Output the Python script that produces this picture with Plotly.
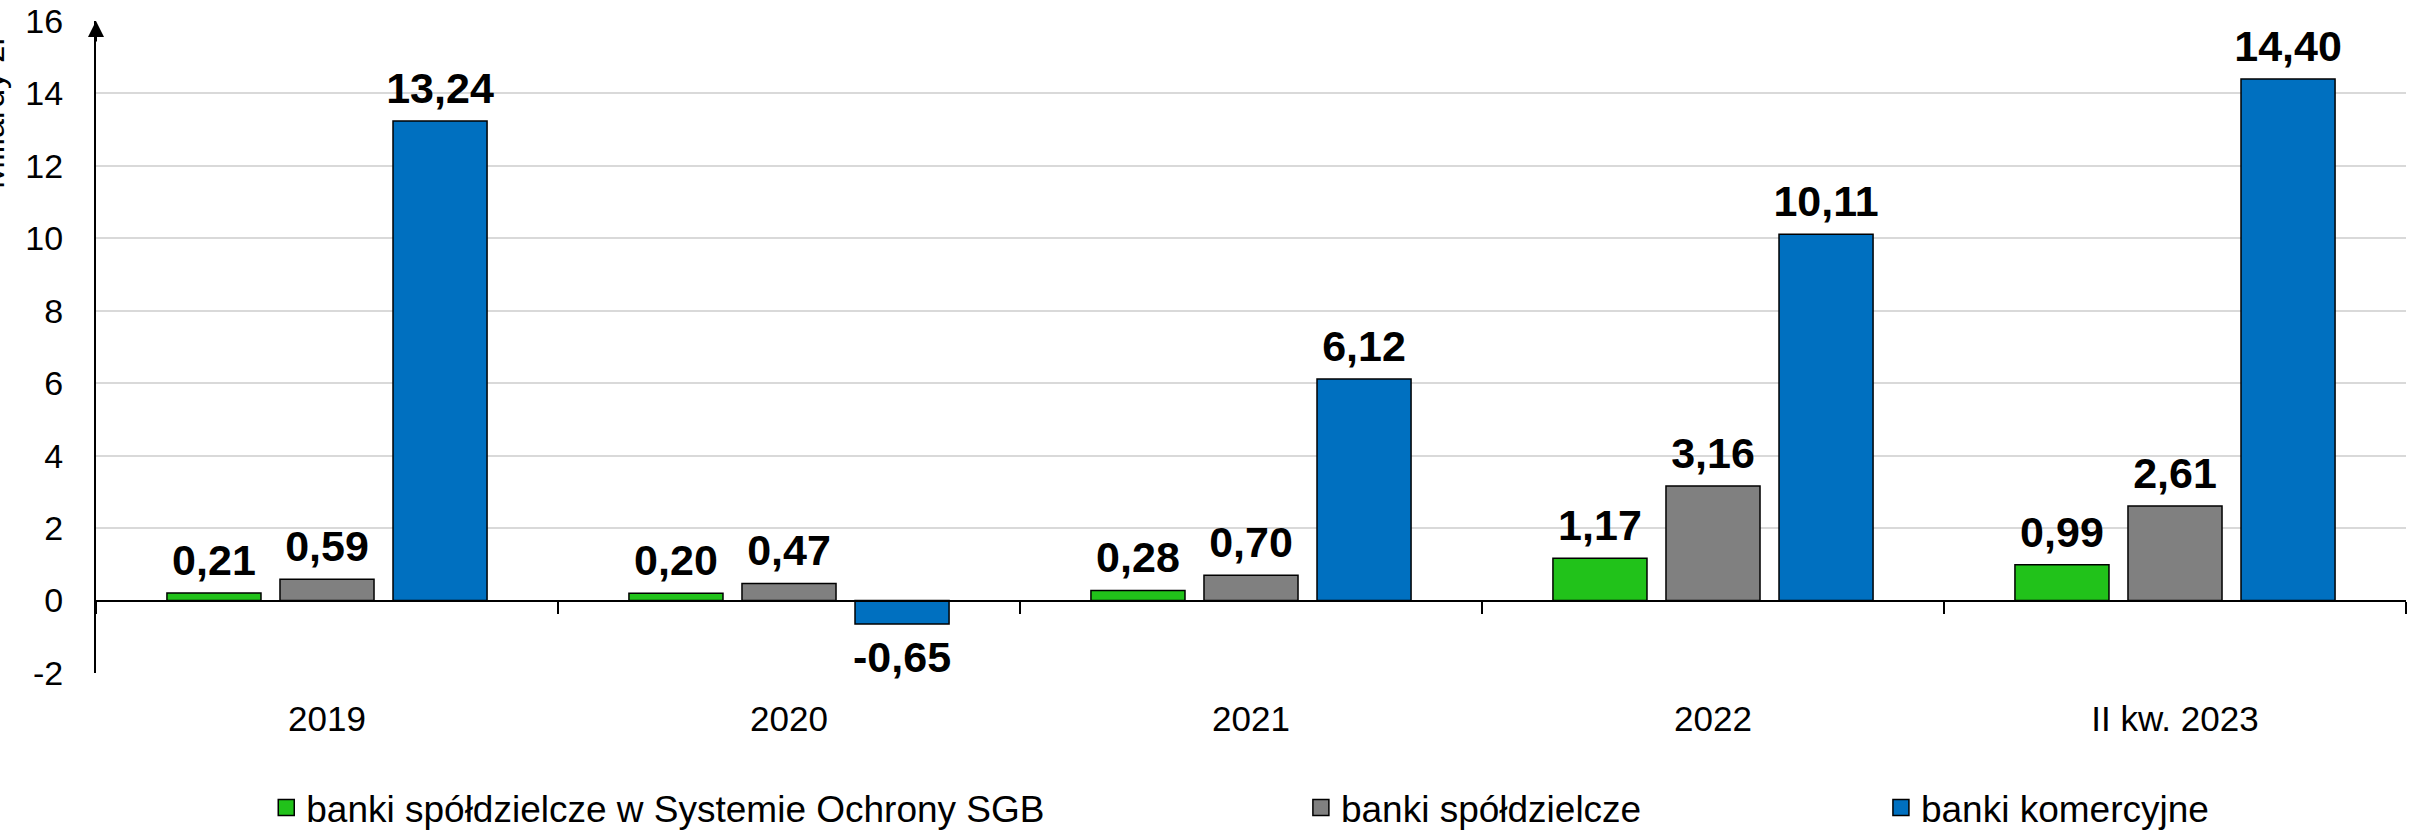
import plotly.graph_objects as go

categories = ["2019", "2020", "2021", "2022", "II kw. 2023"]
series_names = ["banki spółdzielcze w Systemie Ochrony SGB", "banki spółdzielcze", "banki komercyjne"]
sgb = [0.21, 0.20, 0.28, 1.17, 0.99]
spoldzielcze = [0.59, 0.47, 0.70, 3.16, 2.61]
komercyjne = [13.24, -0.65, 6.12, 10.11, 14.40]
colors = ["#21C21A", "#808080", "#0070C0"]
y_ticks = [-2, 0, 2, 4, 6, 8, 10, 12, 14, 16]
y_title = "Miliardy zł"

FONT = "Liberation Sans"
LABEL_GAP = 0.17  # extra gap between bar end and its label, in axis units

def fmt(v):
    return f"{v:.2f}".replace(".", ",")

fig = go.Figure()
legend_ids = ["legend", "legend2", "legend3"]
for i, (name, vals, col, lg) in enumerate(zip(series_names, [sgb, spoldzielcze, komercyjne], colors, legend_ids)):
    grp = f"g{i}"
    fig.add_trace(go.Bar(
        x=categories, y=vals, name=name, showlegend=False, offsetgroup=grp,
        marker=dict(color=col, line=dict(color="black", width=1.5)),
        hoverinfo="x+y",
    ))
    # transparent carrier bar for the value label, slightly beyond the bar end
    fig.add_trace(go.Bar(
        x=categories, y=[LABEL_GAP if v >= 0 else -LABEL_GAP for v in vals], base=vals,
        offsetgroup=grp, showlegend=False, hoverinfo="skip",
        marker=dict(color="rgba(0,0,0,0)", line=dict(width=0)),
        text=[fmt(v) for v in vals], textposition="outside",
        textfont=dict(family=FONT, size=43, color="black", weight="bold"),
        constraintext="none", cliponaxis=False,
    ))
    # legend entry with a larger square symbol
    fig.add_trace(go.Scatter(
        x=[None], y=[None], mode="markers", name=name, legend=lg, showlegend=True,
        marker=dict(symbol="square", size=16, color=col, line=dict(color="black", width=1.5)),
        hoverinfo="skip",
    ))

# hidden trace for bottom category labels axis
fig.add_trace(go.Scatter(x=[None], y=[None], xaxis="x2", showlegend=False, hoverinfo="skip"))

leg_common = dict(orientation="h", y=-0.207, yanchor="middle", xanchor="left",
                  font=dict(family=FONT, size=37, color="black"), bgcolor="rgba(0,0,0,0)",
                  itemsizing="trace")

fig.update_layout(
    width=2425, height=835,
    margin=dict(l=96, r=19, t=21, b=162, autoexpand=False),
    paper_bgcolor="white", plot_bgcolor="white",
    barmode="group", bargap=0.266, bargroupgap=0.168,
    font=dict(family=FONT, size=34, color="black"),
    xaxis=dict(
        type="category", categoryorder="array", categoryarray=categories,
        range=[-0.5, 4.5], anchor="free", position=2/18,
        showline=True, linecolor="black", linewidth=2,
        ticks="outside", tickson="boundaries", ticklen=12, tickwidth=2, tickcolor="black",
        showticklabels=False, showgrid=False, zeroline=False, automargin=False,
    ),
    xaxis2=dict(
        overlaying="x", anchor="y", side="bottom", range=[-0.5, 4.5],
        tickmode="array", tickvals=list(range(len(categories))), ticktext=categories,
        showline=False, showgrid=False, zeroline=False, ticks="",
        tickfont=dict(family=FONT, size=35, color="black"), ticklabelstandoff=22,
        automargin=False,
    ),
    yaxis=dict(
        range=[-2, 16], tickmode="array", tickvals=y_ticks, ticktext=[str(t) for t in y_ticks],
        showline=True, linecolor="black", linewidth=2,
        showgrid=True, gridcolor="#D9D9D9", gridwidth=2, zeroline=False,
        ticks="", ticklabelstandoff=24, automargin=False, ticklabeloverflow="allow",
        tickfont=dict(family=FONT, size=34, color="black"),
    ),
    legend=dict(x=0.0737, **leg_common),
    legend2=dict(x=0.5216, **leg_common),
    legend3=dict(x=0.7727, **leg_common),
    showlegend=True,
)

# arrow head on the y axis
fig.add_annotation(x=0, xref="paper", y=16, yref="y", ax=0, ay=22, axref="pixel", ayref="pixel",
                   text="", showarrow=True, arrowhead=2, arrowsize=1.6, arrowwidth=2, arrowcolor="black")

# y-axis title (partly outside the canvas, as in the reference)
fig.add_annotation(x=-0.0359, xref="paper", xanchor="right", y=0.859, yref="paper", yanchor="middle",
                   text=y_title, textangle=-90, showarrow=False,
                   font=dict(family=FONT, size=34, color="black"))

# remove the default page margin so the figure sits at the window's top-left corner
fig.write_html("out.html", config={"displayModeBar": False},
               post_script="document.body.style.margin='0';document.body.style.overflow='hidden';")
